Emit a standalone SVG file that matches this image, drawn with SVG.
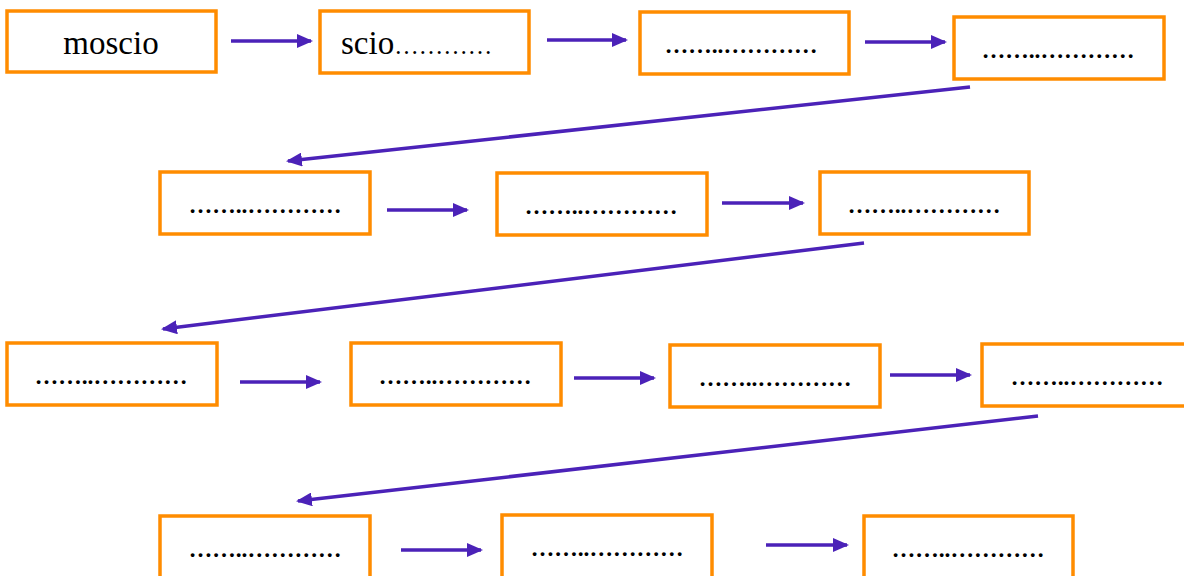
<svg xmlns="http://www.w3.org/2000/svg" width="1184" height="576" viewBox="0 0 1184 576">
<style>
.box{fill:#fff;stroke:#FF8C00;stroke-width:3.5}
.t{font-family:"Liberation Serif",serif;font-size:33px;fill:#000;text-anchor:middle}
.d{font-family:"Liberation Serif",serif;font-size:23.5px;font-weight:bold;fill:#000;text-anchor:middle}
.c{stroke:#4B22B8;stroke-width:3.5;fill:none;marker-end:url(#ah)}
</style>
<defs>
<marker id="ah" viewBox="0 0 16 14" refX="14" refY="7" markerWidth="16" markerHeight="14" markerUnits="userSpaceOnUse" orient="auto">
<path d="M0,0 L16,7 L0,14 Z" fill="#4B22B8"/>
</marker>
</defs>
<rect width="1184" height="576" fill="#fff"/>
<g id="n1"><rect class="box" x="7" y="11" width="209" height="61"/><text class="t" x="111" y="54">moscio</text></g>
<g id="n2"><rect class="box" x="320" y="11" width="209" height="62"/><text class="t" x="341" y="54" style="text-anchor:start">scio<tspan font-size="24.5">…………</tspan></text></g>
<g id="n3"><rect class="box" x="640" y="12" width="209" height="62"/><text class="d" x="741" y="53">……..…………</text></g>
<g id="n4"><rect class="box" x="954" y="17" width="210" height="62"/><text class="d" x="1058" y="58">……..…………</text></g>
<g id="n5"><rect class="box" x="160" y="172" width="210" height="62"/><text class="d" x="265" y="213">……..…………</text></g>
<g id="n6"><rect class="box" x="497" y="173" width="210" height="62"/><text class="d" x="601" y="214">……..…………</text></g>
<g id="n7"><rect class="box" x="820" y="172" width="209" height="62"/><text class="d" x="924" y="213">……..…………</text></g>
<g id="n8"><rect class="box" x="7" y="343" width="210" height="62"/><text class="d" x="111" y="384">……..…………</text></g>
<g id="n9"><rect class="box" x="351" y="343" width="210" height="62"/><text class="d" x="455" y="384">……..…………</text></g>
<g id="n10"><rect class="box" x="670" y="345" width="210" height="62"/><text class="d" x="775" y="386">……..…………</text></g>
<g id="n11"><rect class="box" x="982" y="344" width="212" height="62"/><text class="d" x="1087" y="385">……..…………</text></g>
<g id="n12"><rect class="box" x="160" y="516" width="210" height="66"/><text class="d" x="265" y="557">……..…………</text></g>
<g id="n13"><rect class="box" x="502" y="515" width="210" height="66"/><text class="d" x="607" y="556">……..…………</text></g>
<g id="n14"><rect class="box" x="864" y="516" width="209" height="66"/><text class="d" x="968" y="557">……..…………</text></g>
<g id="connectors">
<line class="c" x1="231" y1="41" x2="311" y2="41"/>
<line class="c" x1="547" y1="40" x2="626" y2="40"/>
<line class="c" x1="865" y1="42" x2="945" y2="42"/>
<line class="c" x1="970" y1="87" x2="288" y2="161"/>
<line class="c" x1="387" y1="210" x2="467" y2="210"/>
<line class="c" x1="722" y1="203" x2="803" y2="203"/>
<line class="c" x1="864" y1="243" x2="163" y2="329"/>
<line class="c" x1="240" y1="382" x2="320" y2="382"/>
<line class="c" x1="574" y1="378" x2="654" y2="378"/>
<line class="c" x1="890" y1="375" x2="970" y2="375"/>
<line class="c" x1="1038" y1="416" x2="298" y2="501"/>
<line class="c" x1="401" y1="550" x2="481" y2="550"/>
<line class="c" x1="766" y1="545" x2="847" y2="545"/>
</g>
</svg>
